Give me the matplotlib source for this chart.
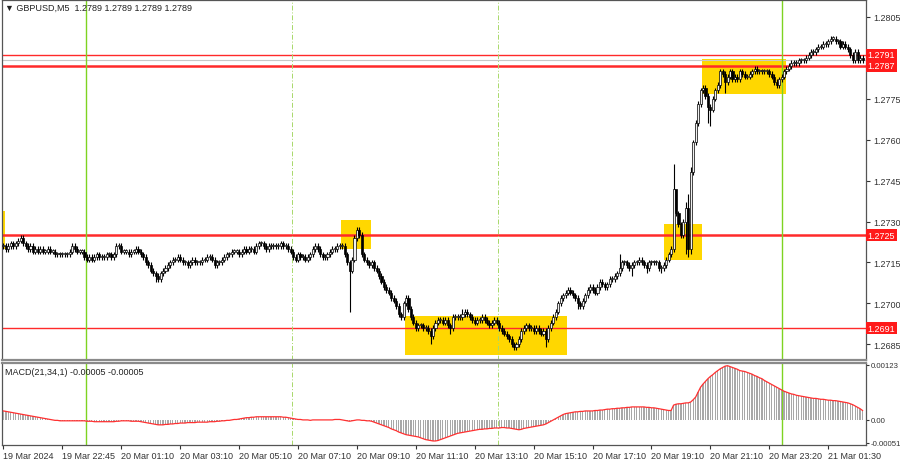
# GBPUSD M5 candles with support/resistance levels and MACD panel

import numpy as np
import matplotlib
matplotlib.use('Agg')
import matplotlib.pyplot as plt
from matplotlib.patches import Rectangle

plt.rcParams['font.family'] = ['Liberation Sans', 'DejaVu Sans']
plt.rcParams['font.size'] = 6.5

# close of each M5 bar, in pips above 1.2700
close_pips = [
    21, 20, 21, 22, 21, 22, 23, 24, 22, 21,
    20, 21, 19, 20, 19, 20, 19, 19, 20, 19,
    19, 18, 18, 18, 18, 18, 18, 19, 21, 20,
    19, 19, 19, 17, 16, 17, 16, 17, 18, 17,
    17, 17, 18, 18, 17, 18, 21, 21, 19, 19,
    19, 18, 19, 19, 20, 19, 18, 17, 15, 14,
    12, 11, 10, 9, 11, 12, 13, 14, 15, 16,
    16, 17, 16, 15, 15, 14, 15, 16, 15, 15,
    15, 16, 16, 17, 17, 16, 14, 15, 15, 16,
    17, 18, 18, 19, 19, 19, 18, 19, 20, 19,
    20, 20, 19, 21, 22, 22, 21, 20, 21, 21,
    21, 21, 21, 22, 21, 21, 20, 19, 17, 16,
    18, 17, 17, 16, 17, 18, 20, 21, 20, 18,
    17, 17, 18, 19, 20, 20, 21, 21, 21, 18,
    15, 12, 16, 24, 27, 25, 18, 16, 15, 14,
    15, 13, 12, 10, 8, 6, 5, 4, 2, 1,
    -1, -4, -5, 0, 2, -2, -5, -7, -9, -8,
    -8, -9, -9, -10, -12, -9, -7, -6, -6, -7,
    -6, -8, -9, -5, -5, -5, -5, -4, -3, -4,
    -5, -6, -7, -6, -6, -5, -6, -7, -8, -7,
    -6, -7, -9, -10, -11, -12, -13, -15, -16, -15,
    -13, -10, -9, -8, -9, -9, -10, -9, -10, -11,
    -10, -13, -9, -7, -5, -3, 0, 2, 3, 4,
    5, 4, 3, 2, 0, -1, 1, 3, 5, 6,
    5, 4, 6, 8, 7, 6, 7, 9, 9, 10,
    11, 13, 15, 15, 14, 13, 14, 15, 15, 16,
    15, 14, 13, 15, 15, 15, 15, 13, 13, 14,
    16, 18, 20, 42, 33, 29, 25, 30, 35, 20,
    48, 59, 66, 73, 78, 79, 76, 72, 71, 75,
    78, 80, 85, 84, 81, 83, 85, 82, 83, 82,
    85, 84, 83, 83, 84, 85, 86, 85, 85, 85,
    85, 85, 84, 83, 81, 80, 82, 83, 85, 86,
    87, 88, 88, 88, 89, 89, 89, 90, 91, 92,
    92, 93, 94, 94, 95, 95, 96, 97, 97, 96,
    96, 94, 95, 94, 93, 91, 89, 92, 89, 90, 89,
]
# bars with long shadows (bar index: pips above 1.2700)
high_pips = {7: 25, 144: 28, 187: -2, 251: 18, 273: 51, 274: 38,
             278: 37, 279: 40, 280: 50}
low_pips = {62: 8, 141: -3, 174: -15, 182: -11, 208: -17, 221: -16,
            234: -2, 256: 10, 262: 11, 268: 11, 278: 18, 279: 17,
            280: 18, 287: 66, 288: 65, 294: 77, 348: 88}

# MACD(21,34,1) main line, in units of 0.00001
macd_e5 = [
    20, 19, 18, 17, 16, 15, 14, 13, 12, 11,
    10, 9, 8, 7, 6, 5, 4, 3, 2, 1,
    0, -1, -1, -2, -2, -2, -2, -2, -2, -2,
    -2, -2, -2, -2, -3, -3, -3, -4, -4, -4,
    -4, -4, -4, -4, -4, -4, -3, -3, -2, -2,
    -2, -2, -3, -3, -3, -3, -4, -5, -6, -7,
    -8, -9, -10, -11, -11, -11, -10, -10, -9, -9,
    -8, -8, -7, -7, -7, -6, -6, -6, -6, -5,
    -5, -5, -5, -5, -4, -4, -4, -3, -3, -2,
    -2, -1, -1, 0, 1, 1, 2, 3, 4, 5,
    5, 6, 6, 7, 7, 7, 7, 7, 7, 7,
    7, 7, 7, 7, 6, 6, 5, 4, 3, 2,
    1, 1, 0, 0, 0, -1, 0, 0, 0, 0,
    0, 0, 0, 0, 0, 1, 1, 1, 0, -1,
    -2, -3, -2, -1, 0, 0, -1, -1, -2, -2,
    -3, -5, -7, -9, -11, -13, -15, -17, -20, -22,
    -24, -27, -29, -31, -33, -34, -35, -36, -37, -38,
    -40, -42, -44, -45, -46, -47, -47, -46, -44, -42,
    -40, -38, -36, -34, -32, -30, -29, -28, -27, -26,
    -25, -24, -23, -22, -21, -21, -20, -20, -19, -19,
    -18, -18, -18, -17, -17, -18, -18, -19, -20, -21,
    -22, -21, -19, -18, -17, -16, -15, -14, -13, -12,
    -11, -9, -6, -3, 0, 3, 6, 9, 12, 14,
    15, 16, 17, 18, 18, 19, 19, 20, 20, 20,
    20, 21, 21, 22, 22, 23, 24, 24, 25, 25,
    26, 26, 27, 27, 28, 28, 29, 29, 29, 29,
    29, 29, 28, 28, 27, 27, 26, 25, 24, 23,
    22, 21, 21, 33, 35, 36, 36, 37, 38, 38,
    40, 45, 51, 62, 73, 80, 86, 92, 97, 101,
    106, 110, 114, 117, 120, 121, 119, 117, 115, 113,
    110, 109, 108, 106, 104, 102, 99, 97, 94, 92,
    88, 85, 82, 79, 76, 73, 70, 67, 64, 62,
    60, 58, 57, 55, 54, 53, 52, 51, 50, 49,
    48, 48, 47, 46, 46, 45, 44, 44, 43, 43,
    42, 41, 40, 39, 38, 36, 34, 31, 28, 25, 21,
]

time_ticks = [0, 24, 48, 72, 96, 120, 144, 168, 192, 216, 240, 264, 288, 312, 336]
time_labels = ['19 Mar 2024', '19 Mar 22:45', '20 Mar 01:10', '20 Mar 03:10',
               '20 Mar 05:10', '20 Mar 07:10', '20 Mar 09:10', '20 Mar 11:10',
               '20 Mar 13:10', '20 Mar 15:10', '20 Mar 17:10', '20 Mar 19:10',
               '20 Mar 21:10', '20 Mar 23:20', '21 Mar 01:30']
price_ticks = [1.2685, 1.2700, 1.2715, 1.2730, 1.2745, 1.2760, 1.2775, 1.2805]
levels = [1.2791, 1.2787, 1.2725, 1.2691]
level_widths = [1.0, 1.8, 1.8, 1.0]
last_price = 1.2789
# zones: first bar, last bar, low pips, high pips
zones = [(-0.8, 0.8, 20, 34), (137.5, 149.7, 20, 30.5), (163.5, 229.5, -19, -4.6),
         (269.3, 284.4, 16, 29), (284.4, 319.0, 76.6, 89.4)]
green_lines = [33.8, 317.0]
dashed_lines = [117.6, 201.4]

close = 1.27 + np.array(close_pips) / 1e4
opn = np.r_[close[0], close[:-1]]
idx = np.arange(len(close))
hi = np.maximum(opn, close) + 0.0001
lo = np.minimum(opn, close) - 0.0001
for k, v in high_pips.items():
    hi[k] = 1.27 + v / 1e4
for k, v in low_pips.items():
    lo[k] = 1.27 + v / 1e4
macd = np.array(macd_e5) / 1e5

fig = plt.figure(figsize=(9, 4.6), dpi=100)
ax1 = fig.add_axes([2/900, 1 - 361/460, 864/900, 360/460])
ax2 = fig.add_axes([2/900, 1 - 446/460, 864/900, 82/460], sharex=ax1)

for x0, x1, p0, p1 in zones:
    ax1.add_patch(Rectangle((x0, 1.27 + p0/1e4), x1 - x0, (p1 - p0)/1e4,
                            facecolor='#ffd700', edgecolor='none', zorder=1))

for lv, lw in zip(levels, level_widths):
    ax1.axhline(lv, color='#ff2a2a', lw=lw, zorder=2)
ax1.axhline(last_price, color='#c8c8c8', lw=0.8, zorder=1.5)

for ax in (ax1, ax2):
    for x in green_lines:
        ax.axvline(x, color='#7ed321', lw=1.0, zorder=2)
    for x in dashed_lines:
        ax.axvline(x, color='#a8d86a', lw=0.7, ls=(0, (5, 2, 1, 2)), zorder=2)

ax1.vlines(idx, lo, hi, color='black', lw=0.8, zorder=3)
body = np.maximum(np.abs(close - opn), 0.00004)
colors = np.where(close >= opn, '#f0f0f0', 'black')
ax1.bar(idx, body, bottom=np.minimum(opn, close), width=0.85, color=colors,
        edgecolor='black', lw=0.5, zorder=4)

ax1.set_xlim(-0.6, 351.4)
ax1.set_ylim(1.26793, 1.28111)
ax1.yaxis.tick_right()
ax1.set_yticks(price_ticks)
ax1.set_yticklabels([f'{p:.4f}' for p in price_ticks])
ax1.tick_params(axis='y', length=3, pad=2, colors='#333333', labelsize=6.5)
ax1.tick_params(axis='x', bottom=False, labelbottom=False)

ax1.text(0.004, 0.993, '\u25bc GBPUSD,M5  1.2789 1.2789 1.2789 1.2789',
         transform=ax1.transAxes, va='top', ha='left', color='#222222', fontsize=6.5)

ytr = ax1.get_yaxis_transform()
ax1.text(1.002, last_price, f'{last_price:.4f}', transform=ytr, color='white',
         va='center', ha='left', fontsize=6.5, clip_on=False, zorder=10,
         bbox=dict(boxstyle='square,pad=0.2', fc='black', ec='none'))
for lv in levels:
    ax1.text(1.002, lv, f'{lv:.4f}', transform=ytr, color='white',
             va='center', ha='left', fontsize=6.5, clip_on=False, zorder=11,
             bbox=dict(boxstyle='square,pad=0.2', fc='#ff1a1a', ec='none'))

# MACD panel
ax2.bar(idx, macd, width=0.5, color='#a8a8a8', zorder=3)
ax2.plot(idx, macd, color='#ff3030', lw=0.9, zorder=4)
ax2.set_ylim(-0.00056, 0.00127)
ax2.yaxis.tick_right()
ax2.set_yticks([0.00123, 0.0, -0.00051])
ax2.set_yticklabels(['0.00123', '0.00', '-0.00051'])
ax2.tick_params(axis='y', length=2, pad=1.5, colors='#333333', labelsize=5.6)
ax2.set_xticks(time_ticks)
ax2.set_xticklabels(time_labels)
ax2.tick_params(axis='x', length=3, pad=1, colors='#333333', labelsize=6.5)
for lab in ax2.get_xticklabels():
    lab.set_horizontalalignment('left')
ax2.text(0.004, 0.95, 'MACD(21,34,1) -0.00005 -0.00005', transform=ax2.transAxes,
         va='top', ha='left', color='#222222', fontsize=6.5)

for ax in (ax1, ax2):
    for s in ax.spines.values():
        s.set_color('#555555')
        s.set_linewidth(0.9)
ax1.spines['bottom'].set_color('#8a8a8a')
ax1.spines['bottom'].set_linewidth(1.6)
ax2.spines['top'].set_color('#8a8a8a')
ax2.spines['top'].set_linewidth(1.6)

fig.savefig('out.png', dpi=100)
